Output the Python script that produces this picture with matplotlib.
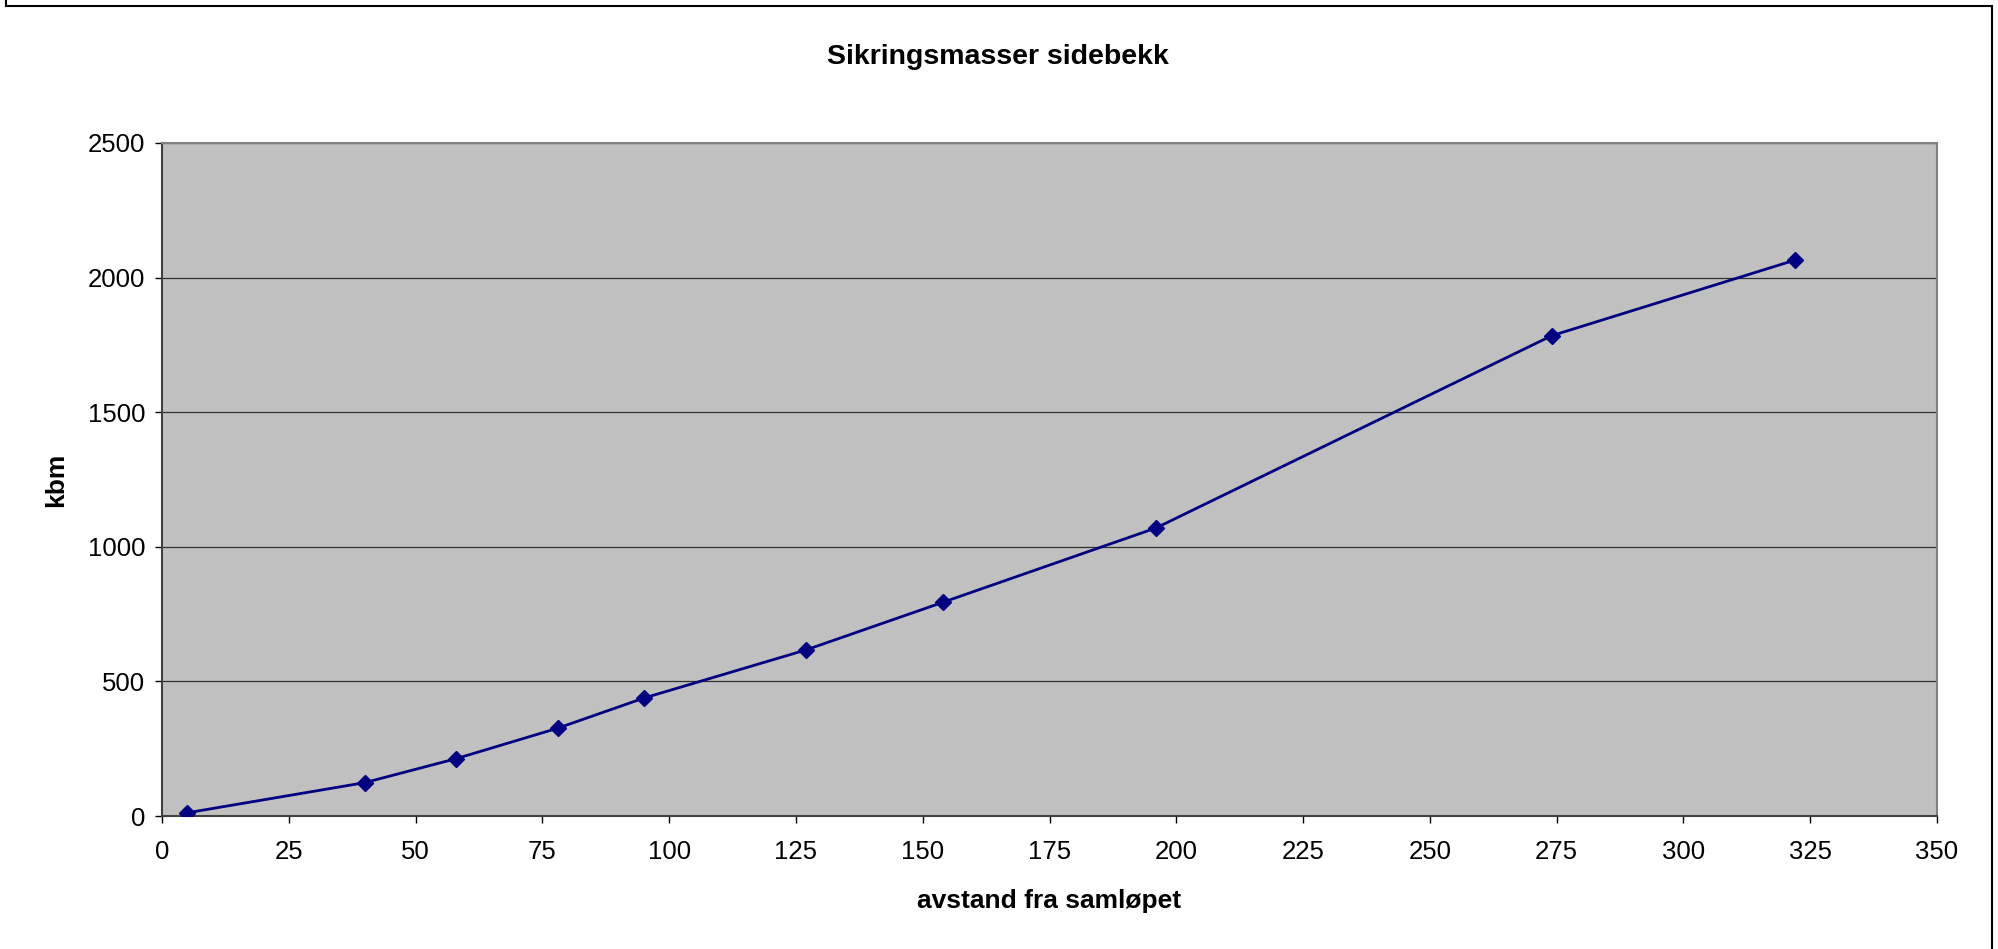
import matplotlib.pyplot as plt
from matplotlib.lines import Line2D

# data
avstand = [5, 40, 58, 78, 95, 127, 154, 196, 274, 322]
kbm = [12, 124, 213, 326, 438, 617, 794, 1070, 1784, 2065]

x_ticks = list(range(0, 351, 25))
y_ticks = list(range(0, 2501, 500))

plt.rcParams['font.family'] = ['Liberation Sans', 'DejaVu Sans']

W, H = 1999, 949
fig = plt.figure(figsize=(W / 100, H / 100), dpi=100)
fig.patch.set_facecolor('white')

# plot area in pixels: left 162, right 1937, top 143, bottom 816
ax = fig.add_axes([162 / W, 1 - 816 / H, (1937 - 162) / W, (816 - 143) / H])
ax.set_facecolor('#C0C0C0')

ax.plot(avstand, kbm, color='#000080', linewidth=2, marker='D', markersize=8,
        markerfacecolor='#000080', markeredgecolor='#000080', zorder=3)

ax.set_xlim(0, 350)
ax.set_ylim(0, 2500)
ax.set_xticks(x_ticks)
ax.set_yticks(y_ticks)
ax.grid(axis='y', color='black', linewidth=0.9, alpha=0.75)
ax.set_axisbelow(True)

for side in ['top', 'right']:
    ax.spines[side].set_color('#808080')
    ax.spines[side].set_linewidth(1.5)
for side in ['left', 'bottom']:
    ax.spines[side].set_color('#404040')
    ax.spines[side].set_linewidth(1.5)

ax.tick_params(axis='both', direction='out', length=5, width=1, color='black',
               labelsize=18.5)
ax.tick_params(axis='x', pad=12)
ax.tick_params(axis='y', pad=7)

ax.set_xlabel('avstand fra samløpet', fontsize=19, fontweight='bold', labelpad=18)
ax.set_ylabel('kbm', fontsize=19, fontweight='bold', labelpad=14)
fig.text(998 / W, 1 - 57 / H, 'Sikringsmasser sidebekk', ha='center', va='center',
         fontsize=20.5, fontweight='bold')

# outer chart border (bottom edge falls outside the picture)
for xs, ys in [([6, 6], [0, 6]), ([6, 1992], [6, 6]), ([1992, 1992], [6, 949])]:
    fig.add_artist(Line2D([x / W for x in xs], [1 - y / H for y in ys],
                          color='black', linewidth=1.5))

fig.savefig('out.png', dpi=100)
